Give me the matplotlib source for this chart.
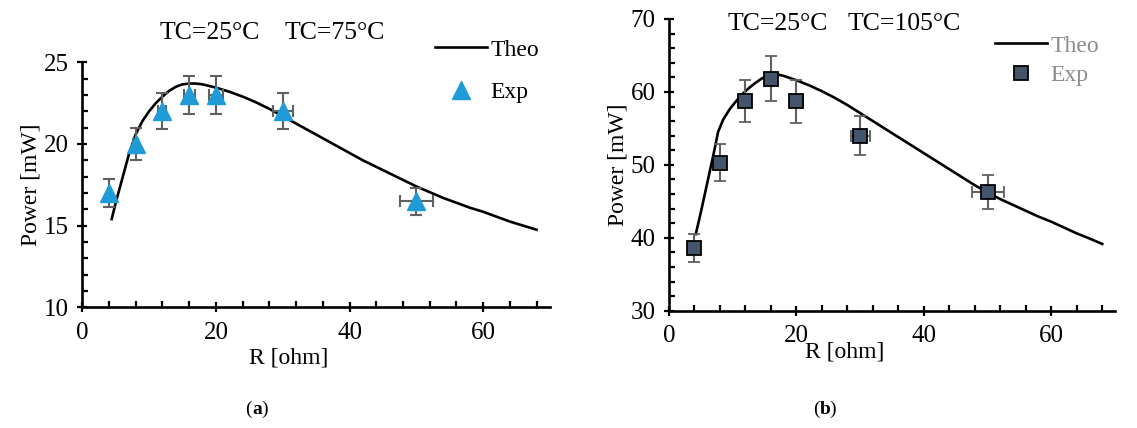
import matplotlib
matplotlib.use("Agg")
import matplotlib.pyplot as plt
from matplotlib.ticker import MultipleLocator
from matplotlib.lines import Line2D

plt.rcParams['font.family'] = ['Liberation Serif', 'DejaVu Serif']
FS = 17
TFS = 18
TITLE_FS = 18.5

# panel (a): TC=25C / TC=75C
r_exp = [4, 8, 12, 16, 20, 30, 50]
a_exp = [17.0, 20.0, 22.0, 23.0, 23.0, 22.0, 16.5]
a_yerr = [0.85, 1.0, 1.1, 1.15, 1.15, 1.1, 0.83]
a_xerr = [0.2, 0.4, 0.6, 0.8, 1.0, 1.5, 2.5]
a_theo_r = [4.4, 5, 6, 7, 8, 9, 10, 11, 12, 13, 14, 15, 16, 17, 18, 20, 22, 24, 26, 28, 30,
            32, 34, 36, 38, 40, 42, 44, 46, 48, 50, 52, 54, 56, 58, 60, 62, 64, 66, 68]
a_theo_p = [15.4, 16.4, 17.9, 19.4, 20.6, 21.4, 22.0, 22.5, 22.9, 23.25, 23.5, 23.65, 23.7,
            23.7, 23.65, 23.45, 23.2, 22.9, 22.55, 22.15, 21.7, 21.25, 20.8, 20.35, 19.9,
            19.45, 19.0, 18.6, 18.2, 17.8, 17.4, 17.05, 16.7, 16.4, 16.1, 15.85, 15.55,
            15.25, 15.0, 14.75]

# panel (b): TC=25C / TC=105C
b_exp = [38.6, 50.3, 58.8, 61.8, 58.7, 54.0, 46.3]
b_yerr = [1.9, 2.5, 2.9, 3.1, 2.9, 2.7, 2.3]
b_xerr = [0.2, 0.4, 0.6, 0.8, 1.0, 1.5, 2.5]
b_theo_r = [4.2, 5, 6, 7, 7.7, 8.5, 9.5, 10.5, 11.5, 12.5, 13.5, 14.5, 15.5, 16.5, 18, 20,
            22, 24, 26, 28, 30, 32, 34, 36, 38, 40, 42, 44, 46, 48, 50, 52, 54, 56, 58, 60,
            62, 64, 66, 68]
b_theo_p = [40.5, 43.5, 47.5, 51.5, 54.5, 56.2, 57.6, 58.7, 59.7, 60.5, 61.2, 61.8, 62.3,
            62.5, 62.2, 61.6, 60.9, 60.1, 59.2, 58.2, 57.1, 56.0, 54.9, 53.8, 52.7, 51.6,
            50.5, 49.4, 48.3, 47.2, 46.2, 45.3, 44.5, 43.7, 42.9, 42.2, 41.4, 40.6, 39.9,
            39.15]

W, H = 1137, 428
fig = plt.figure(figsize=(W / 100, H / 100), dpi=100)
ax1 = fig.add_axes([82.3 / W, 1 - 307.3 / H, 467.6 / W, 245 / H])
ax2 = fig.add_axes([669 / W, 1 - 310.7 / H, 446 / W, 291.7 / H])


def style(ax, ylim, ymaj, ymin, xlab_pos):
    ax.set_xlim(0, 70)
    ax.set_ylim(*ylim)
    ax.xaxis.set_major_locator(MultipleLocator(20))
    ax.xaxis.set_minor_locator(MultipleLocator(4))
    ax.yaxis.set_major_locator(MultipleLocator(ymaj))
    ax.yaxis.set_minor_locator(MultipleLocator(ymin))
    for s in ['top', 'right']:
        ax.spines[s].set_visible(False)
    for s in ['left', 'bottom']:
        ax.spines[s].set_linewidth(1.9)
    ax.tick_params(which='major', direction='inout', length=7, width=1.6, labelsize=TFS)
    ax.tick_params(which='minor', direction='in', length=4, width=1.6)
    ax.tick_params(axis='y', which='major', pad=6)
    ax.tick_params(axis='x', which='major', pad=7)
    ax.set_xlabel('R [ohm]', fontsize=FS, va='center')
    ax.xaxis.set_label_coords(*xlab_pos)
    ax.set_ylabel('Power [mW]', fontsize=FS, labelpad=2)


ax1.plot(a_theo_r, a_theo_p, color='black', lw=1.9, zorder=2)
ax1.errorbar(r_exp, a_exp, yerr=a_yerr, xerr=a_xerr, fmt='^', ms=13, color='#1f9bd7',
             mec='#1f9bd7', ecolor='#606060', elinewidth=1.5, capsize=4, capthick=1.5, zorder=3)
style(ax1, (10, 25), 5, 1, (0.442, -0.207))

ax2.plot(b_theo_r, b_theo_p, color='black', lw=1.9, zorder=2)
ax2.errorbar(r_exp, b_exp, yerr=b_yerr, xerr=b_xerr, fmt='s', ms=10, color='#44546a',
             mec='black', mew=1.3, ecolor='#606060', elinewidth=1.5, capsize=4, capthick=1.5, zorder=3)
style(ax2, (30, 70), 10, 2, (0.395, -0.142))

# condition labels
fig.text(160 / W, 1 - 33 / H, 'TC=25°C', fontsize=TITLE_FS, va='center')
fig.text(285 / W, 1 - 33 / H, 'TC=75°C', fontsize=TITLE_FS, va='center')
fig.text(728 / W, 1 - 24 / H, 'TC=25°C', fontsize=TITLE_FS, va='center')
fig.text(848 / W, 1 - 24 / H, 'TC=105°C', fontsize=TITLE_FS, va='center')

# legends
h_line = Line2D([], [], color='black', lw=1.9)
h_tri = Line2D([], [], marker='^', ls='none', ms=13, color='#1f9bd7')
h_sq = Line2D([], [], marker='s', ls='none', ms=10, mfc='#44546a', mec='black', mew=1.3)
fig.legend([h_line, h_tri], ['Theo', 'Exp'], loc='upper left', bbox_to_anchor=(435 / W, 1 - 39 / H),
           frameon=False, fontsize=FS, handlelength=2.2, handletextpad=0.15,
           labelspacing=0.9, borderpad=0, borderaxespad=0)
leg2 = fig.legend([h_line, h_sq], ['Theo', 'Exp'], loc='upper left', bbox_to_anchor=(995 / W, 1 - 35 / H),
                  frameon=False, fontsize=FS, handlelength=2.2, handletextpad=0.15,
                  labelspacing=0.35, borderpad=0, borderaxespad=0)
for t in leg2.get_texts():
    t.set_color('#8c8c8c')

# panel captions
fig.text(252 / W, 1 - 409 / H, '(', fontsize=14, ha='right', va='center')
fig.text(252 / W, 1 - 409 / H, 'a', fontsize=14, fontweight='bold', ha='left', va='center')
fig.text(261 / W, 1 - 409 / H, ')', fontsize=14, ha='left', va='center')
fig.text(820 / W, 1 - 409 / H, '(', fontsize=14, ha='right', va='center')
fig.text(820 / W, 1 - 409 / H, 'b', fontsize=14, fontweight='bold', ha='left', va='center')
fig.text(829 / W, 1 - 409 / H, ')', fontsize=14, ha='left', va='center')

fig.savefig('out.png', dpi=100)
